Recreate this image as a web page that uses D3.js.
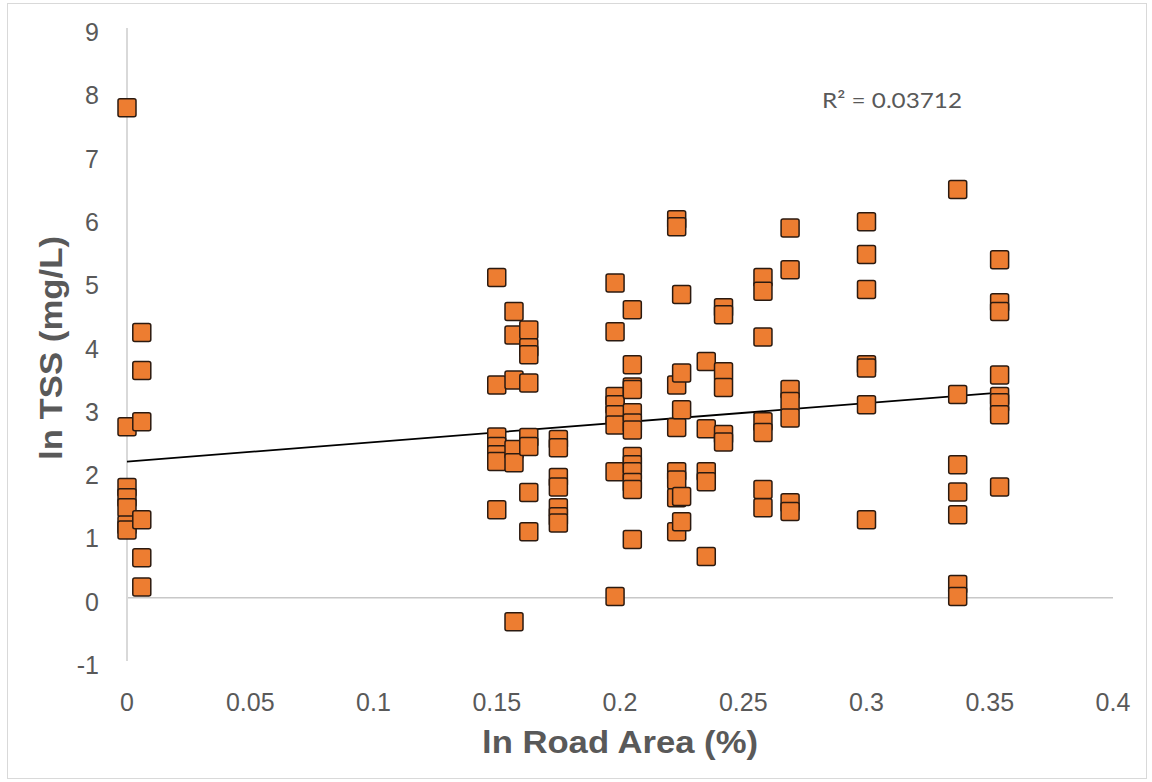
<!DOCTYPE html>
<html>
<head>
<meta charset="utf-8">
<script src="https://cdn.jsdelivr.net/npm/d3@7"></script>
<style>
  body { margin: 0; background: #fff; }
  #chart { width: 1152px; height: 782px; }
</style>
</head>
<body>
<div id="chart"></div>
<script>

// road area (x) of each column of samples
var roadArea = [0, 0.006, 0.150, 0.157, 0.163, 0.175, 0.198, 0.205,
                0.223, 0.225, 0.235, 0.242, 0.258, 0.269, 0.300, 0.337, 0.354];

// ln TSS values read for each of the columns above
var lnTss = [
    [7.74, 2.70, 1.74, 1.58, 1.42, 1.15, 1.07],
    [4.19, 3.59, 2.78, 1.23, 0.63, 0.17],
    [5.06, 3.36, 2.54, 2.39, 2.26, 2.15, 1.39],
    [4.52, 4.15, 3.44, 2.34, 2.13, -0.38],
    [4.23, 3.95, 3.84, 3.39, 2.53, 2.39, 1.66, 1.04],
    [2.50, 2.37, 1.90, 1.75, 1.42, 1.28, 1.18],
    [4.97, 4.20, 3.18, 3.05, 2.89, 2.73, 1.99, 0.02],
    [4.55, 3.68, 3.33, 3.29, 2.92, 2.76, 2.65, 2.23, 2.10, 1.99, 1.82, 1.71, 0.92],
    [5.97, 5.86, 3.36, 2.69, 1.99, 1.86, 1.58, 1.04],
    [4.79, 3.55, 2.97, 1.60, 1.20],
    [3.73, 2.67, 1.99, 1.83, 0.65],
    [4.58, 4.47, 3.57, 3.32, 2.58, 2.46],
    [5.06, 4.84, 4.12, 2.78, 2.61, 1.71, 1.42],
    [5.84, 5.18, 3.29, 3.10, 2.84, 1.50, 1.36],
    [5.94, 5.42, 4.87, 3.68, 3.63, 3.05, 1.23],
    [6.45, 3.21, 2.10, 1.67, 1.31, 0.21, 0.02],
    [5.34, 4.66, 4.52, 3.52, 3.18, 3.08, 2.89, 1.75]
];

var xTicks = [0, 0.05, 0.1, 0.15, 0.2, 0.25, 0.3, 0.35, 0.4];
var yTicks = [-1, 0, 1, 2, 3, 4, 5, 6, 7, 8, 9];

// linear trendline as shown on the chart
var trendIntercept = 2.15;
var trendSlope = 3.08;
var rSquaredLabel = "R\u00b2 = 0.03712";

var width = 1152, height = 782;

var points = [];
roadArea.forEach(function(xv, i) {
    lnTss[i].forEach(function(yv) {
        points.push({ x: xv, y: yv });
    });
});

var svg = d3.select("#chart")
    .append("svg")
    .attr("width", width)
    .attr("height", height);

svg.append("rect")
    .attr("width", "100%")
    .attr("height", "100%")
    .attr("fill", "white");

// outer chart border
svg.append("rect")
    .attr("x", 7.5)
    .attr("y", 3.5)
    .attr("width", 1139)
    .attr("height", 775)
    .attr("fill", "none")
    .attr("stroke", "#d9d9d9")
    .attr("stroke-width", 1);

var x = d3.scaleLinear().domain([0, 0.4]).range([127, 1113]);
var y = d3.scaleLinear().domain([-1, 9]).range([661, 28]);

var labelFont = "'Liberation Sans', Arial, sans-serif";

// horizontal axis line at y = 0
svg.append("line")
    .attr("x1", x(0))
    .attr("x2", x(0.4))
    .attr("y1", y(0))
    .attr("y2", y(0))
    .attr("stroke", "#c8c8c8")
    .attr("stroke-width", 1.5);

// vertical axis line at x = 0
svg.append("line")
    .attr("x1", x(0))
    .attr("x2", x(0))
    .attr("y1", y(9))
    .attr("y2", y(-1))
    .attr("stroke", "#d9d9d9")
    .attr("stroke-width", 2);

// y tick labels
svg.append("g")
    .selectAll("text")
    .data(yTicks)
    .enter().append("text")
    .attr("x", 99)
    .attr("y", function(d) { return y(d) + 13; })
    .attr("text-anchor", "end")
    .attr("font-family", labelFont)
    .attr("font-size", 25)
    .attr("fill", "#595959")
    .text(function(d) { return d; });

// x tick labels
svg.append("g")
    .selectAll("text")
    .data(xTicks)
    .enter().append("text")
    .attr("x", function(d) { return x(d); })
    .attr("y", 711)
    .attr("text-anchor", "middle")
    .attr("font-family", labelFont)
    .attr("font-size", 25)
    .attr("fill", "#595959")
    .text(function(d) { return d; });

// trendline
var xMax = d3.max(roadArea);
svg.append("line")
    .attr("x1", x(0))
    .attr("y1", y(trendIntercept))
    .attr("x2", x(xMax))
    .attr("y2", y(trendIntercept + trendSlope * xMax))
    .attr("stroke", "#000")
    .attr("stroke-width", 1.8);

// markers
var size = 18;
svg.append("g")
    .selectAll("rect")
    .data(points)
    .enter().append("rect")
    .attr("x", function(d) { return x(d.x) - size / 2; })
    .attr("y", function(d) { return y(d.y) - size / 2; })
    .attr("width", size)
    .attr("height", size)
    .attr("rx", 2)
    .attr("fill", "#ed7d31")
    .attr("stroke", "#2b1a10")
    .attr("stroke-width", 1.5);

// trendline label
svg.append("text")
    .attr("x", 822)
    .attr("y", 108)
    .attr("font-family", "Lato, 'Open Sans', sans-serif")
    .attr("font-size", 22)
    .attr("fill", "#595959")
    .attr("textLength", 140)
    .attr("lengthAdjust", "spacingAndGlyphs")
    .text(rSquaredLabel);

// axis titles
svg.append("text")
    .attr("x", 620)
    .attr("y", 753)
    .attr("text-anchor", "middle")
    .attr("font-family", labelFont)
    .attr("font-weight", "bold")
    .attr("font-size", 32)
    .attr("fill", "#595959")
    .attr("textLength", 276)
    .attr("lengthAdjust", "spacingAndGlyphs")
    .text("ln Road Area (%)");

svg.append("text")
    .attr("transform", "translate(62,348) rotate(-90)")
    .attr("text-anchor", "middle")
    .attr("font-family", labelFont)
    .attr("font-weight", "bold")
    .attr("font-size", 32)
    .attr("fill", "#595959")
    .attr("textLength", 224)
    .attr("lengthAdjust", "spacingAndGlyphs")
    .text("ln TSS (mg/L)");

</script>
</body>
</html>
